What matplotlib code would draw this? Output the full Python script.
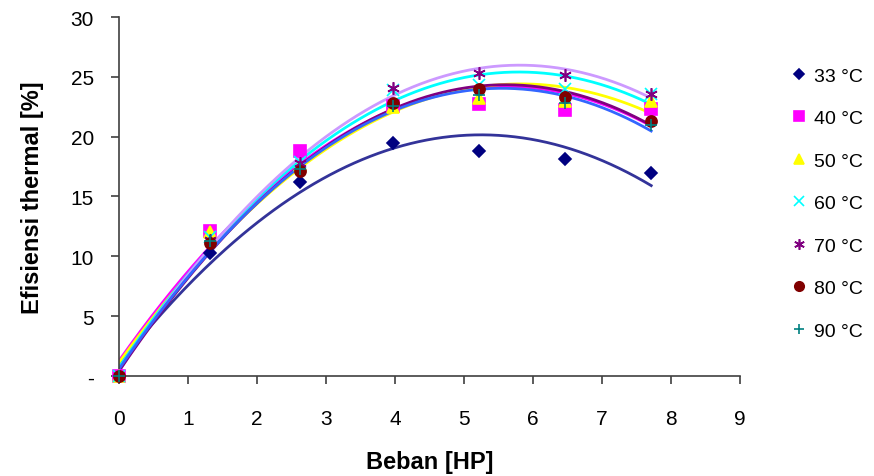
import matplotlib.pyplot as plt
import numpy as np

plt.rcParams['font.family'] = ['Liberation Sans', 'DejaVu Sans']

beban = [0, 1.32, 2.63, 3.97, 5.22, 6.46, 7.71]
labels = ["33 °C", "40 °C", "50 °C", "60 °C", "70 °C", "80 °C", "90 °C"]
eff_33 = [0, 10.3, 16.2, 19.5, 18.8, 18.1, 17.0]
eff_40 = [0, 12.1, 18.8, 22.6, 22.7, 22.2, 22.3]
eff_50 = [0, 12.0, 17.6, 22.5, 23.2, 23.0, 23.0]
eff_60 = [0, 11.6, 17.9, 23.9, 24.3, 24.0, 23.6]
eff_70 = [0, 11.4, 17.8, 24.1, 25.3, 25.2, 23.6]
eff_80 = [0, 11.1, 17.1, 22.8, 24.0, 23.3, 21.3]
eff_90 = [0, 11.3, 17.3, 22.6, 23.5, 22.8, 21.0]
series = [eff_33, eff_40, eff_50, eff_60, eff_70, eff_80, eff_90]

markers = ['D', 's', '^', 'x', (6, 2, 0), 'o', '+']
msizes = [6.5, 8, 8, 8, 9, 8, 8]
mcolors = ['#000080', '#ff00ff', '#ffff00', '#00ffff', '#800080', '#800000', '#008080']
lcolors = ['#333399', '#ff00ff', '#ffff00', '#00ffff', '#cc99ff', '#800080', '#3366ff']

fig = plt.figure(figsize=(8.74, 4.77), dpi=100)
ax = fig.add_axes([0.136, 0.21, 0.711, 0.752])

# second-order polynomial trend lines
xs = np.linspace(0, beban[-1], 200)
for y, lc in zip(series, lcolors):
    coef = np.polyfit(beban, y, 2)
    ax.plot(xs, np.polyval(coef, xs), color=lc, lw=2, zorder=2)

for y, lab, m, ms, mc in zip(series, labels, markers, msizes, mcolors):
    ax.plot(beban, y, linestyle='none', marker=m, markersize=ms, color=mc,
            markeredgewidth=1.2, label=lab, zorder=3, clip_on=False)

ax.set_xlim(0, 9)
ax.set_ylim(0, 30)
ax.set_xticks(range(0, 10))
ax.set_yticks(range(0, 31, 5))
ax.set_yticklabels(['-'] + [str(v) for v in range(5, 31, 5)])
ax.spines['top'].set_visible(False)
ax.spines['right'].set_visible(False)
for s in ['left', 'bottom']:
    ax.spines[s].set_color('#404040')
    ax.spines[s].set_linewidth(1.2)
ax.tick_params(direction='out', length=6, width=1.2, color='#404040', labelsize=15)
ax.tick_params(axis='x', pad=18)
ax.tick_params(axis='y', pad=12)

ax.set_xlabel("Beban [HP]", fontsize=17, fontweight='bold', labelpad=16)
ax.set_ylabel("Efisiensi thermal [%]", fontsize=17, fontweight='bold', labelpad=19)

ax.legend(loc='upper left', bbox_to_anchor=(1.05, 0.91), frameon=False, fontsize=14,
          labelspacing=1.28, handletextpad=0.3, handlelength=1.0, markerscale=0.85)

fig.savefig("out.png", dpi=100)
